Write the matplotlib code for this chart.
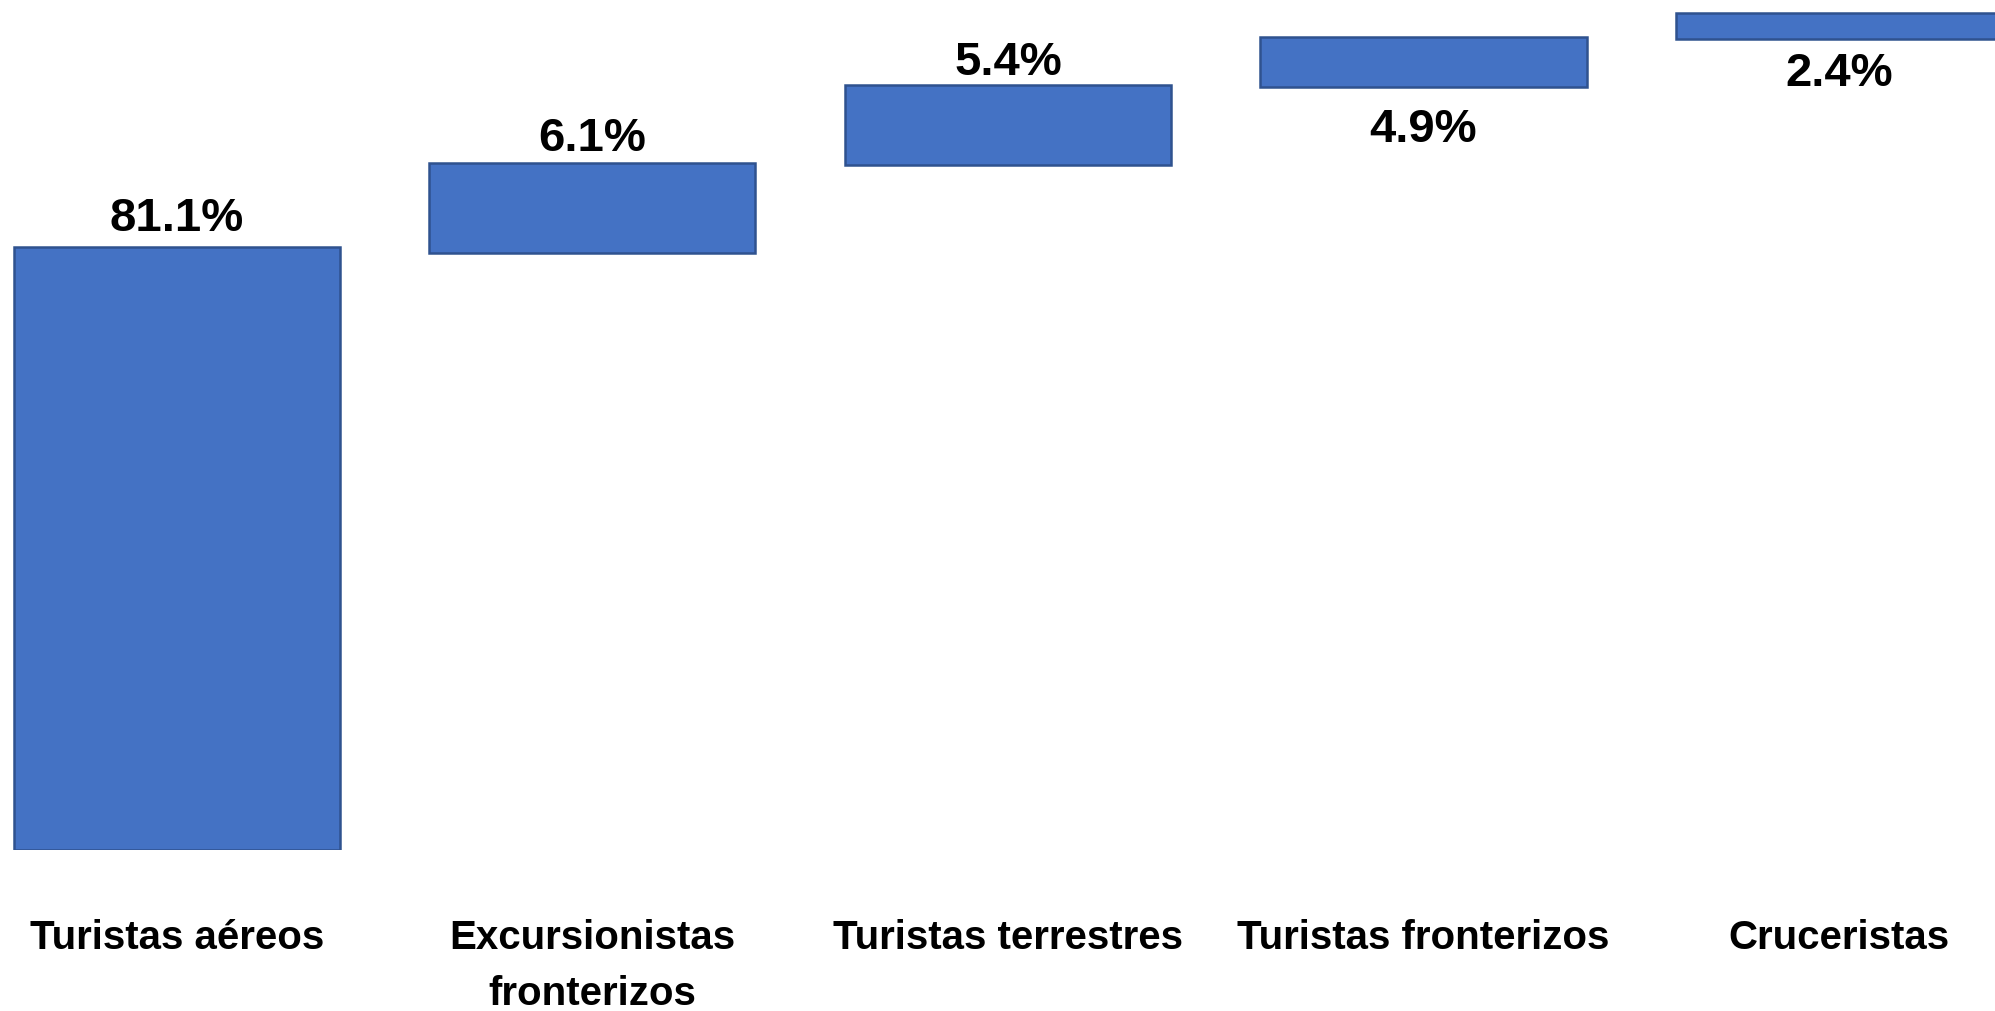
import numpy as np
import matplotlib
matplotlib.use("Agg")
import matplotlib.pyplot as plt

plt.rcParams['font.family'] = ['Liberation Sans', 'DejaVu Sans']

categories = ["Turistas aéreos", "Excursionistas\nfronterizos", "Turistas terrestres",
              "Turistas fronterizos", "Cruceristas"]
shares = [81.1, 6.1, 5.4, 4.9, 2.4]
# bar extents as drawn in the original (its vertical scale is not proportional)
bar_bottom = [0.0, 70.2, 80.6, 89.8, 95.4]
bar_top = [70.9, 80.8, 90.0, 95.6, 98.5]
label_above = [True, True, True, False, False]

fig = plt.figure(figsize=(19.95, 10.11), dpi=100)
ax = fig.add_axes([0, 161 / 1011, 1, 850 / 1011])

x = np.arange(len(categories))
heights = np.array(bar_top) - np.array(bar_bottom)
ax.bar(x, heights, bottom=bar_bottom, width=0.785, color="#4472C4",
       edgecolor="#2F528F", linewidth=1.8)

# gap between bar edge and label, in pixels
label_gap = [16, 12, 10, 21, 13]
for i, s in enumerate(shares):
    if label_above[i]:
        ax.annotate(f"{s}%", (x[i], bar_top[i]), xytext=(0, label_gap[i]),
                    textcoords="offset pixels", ha="center", va="baseline",
                    fontsize=34, fontweight="bold")
    else:
        ax.annotate(f"{s}%", (x[i], bar_bottom[i]), xytext=(0, -label_gap[i]),
                    textcoords="offset pixels", ha="center", va="top",
                    fontsize=34, fontweight="bold")

ax.set_xlim(-0.425, 4.375)
ax.set_ylim(0, 100)
ax.set_xticks(x)
ax.set_xticklabels(categories, fontsize=29, fontweight="bold", linespacing=1.6)
ax.tick_params(axis="x", length=0, pad=50)
ax.set_yticks([])
for sp in ax.spines.values():
    sp.set_visible(False)

fig.savefig("out.png", dpi=100)
